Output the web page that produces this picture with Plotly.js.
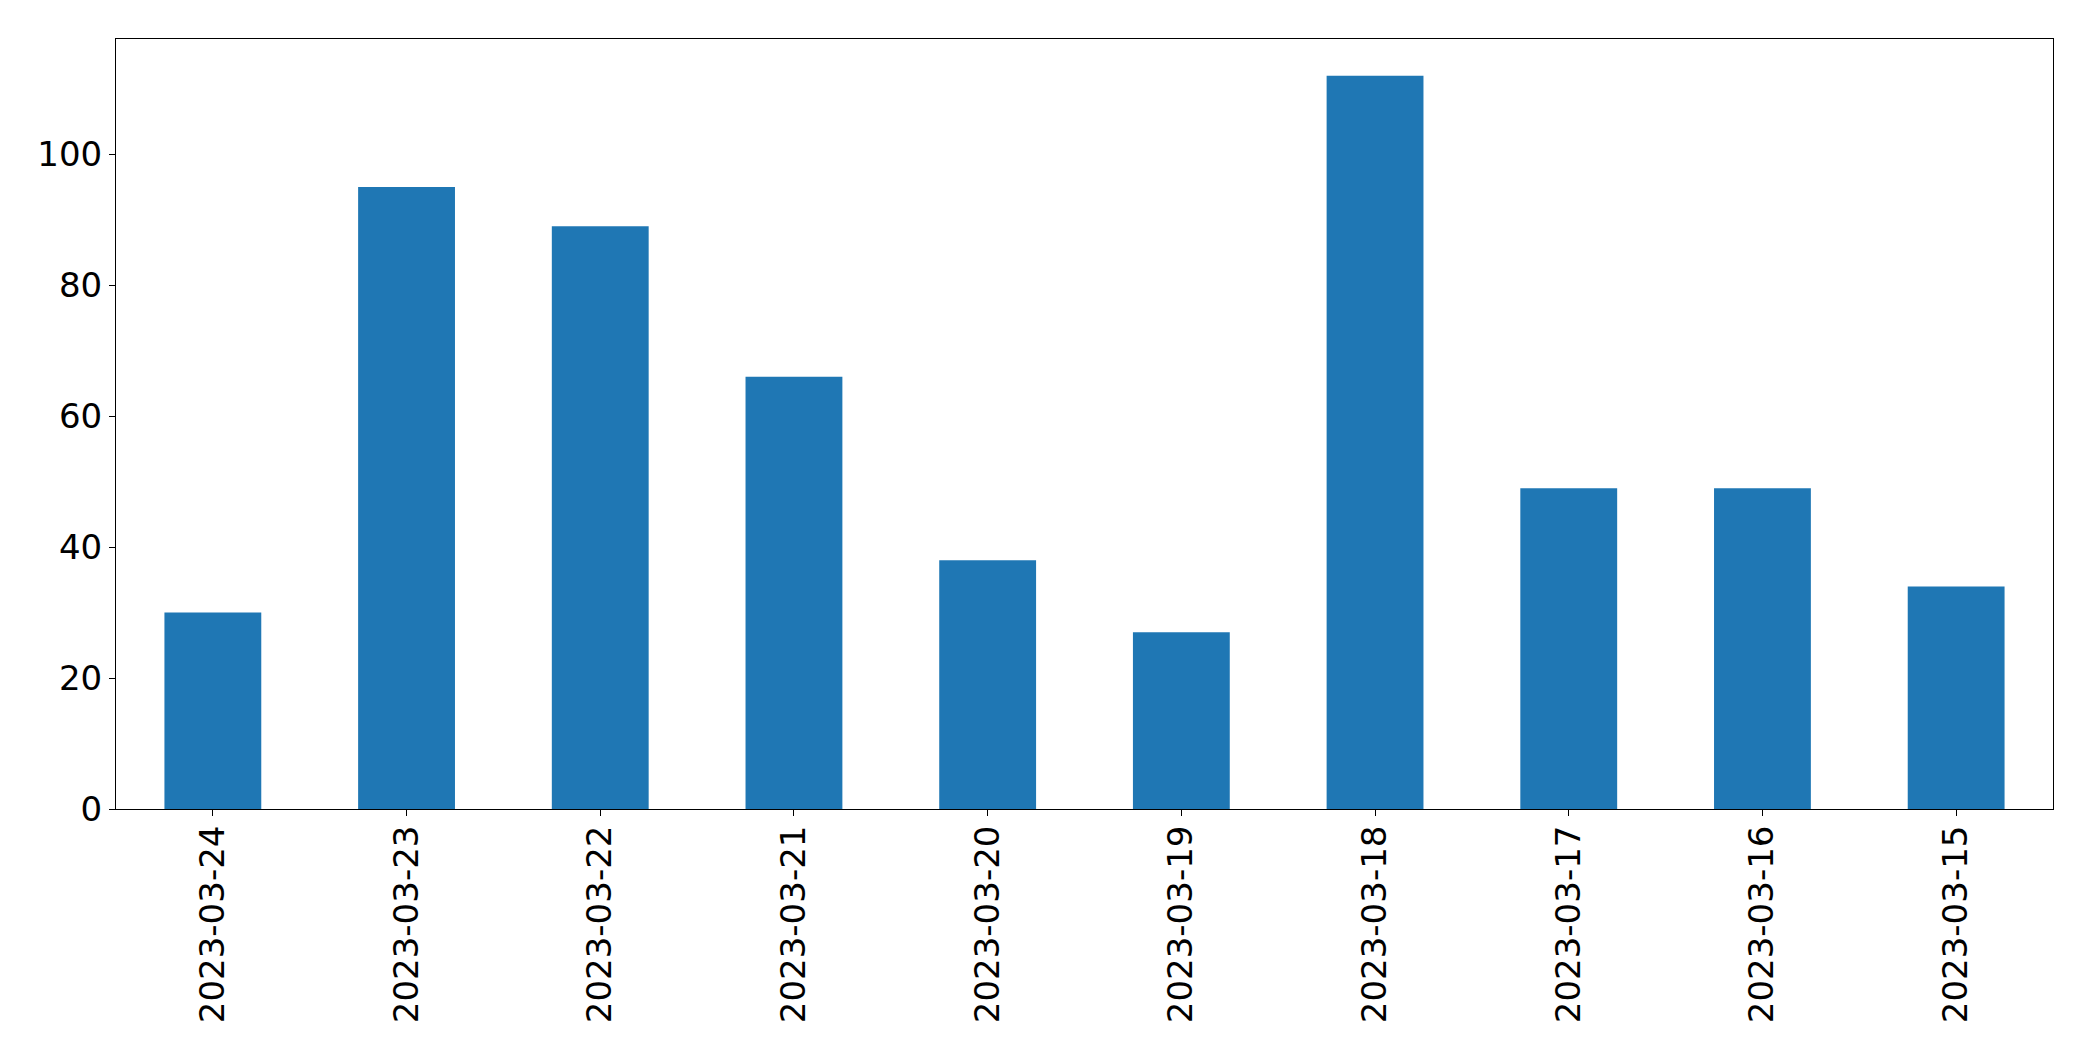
<!DOCTYPE html>
<html>
<head>
<meta charset="utf-8">
<script src="https://cdn.plot.ly/plotly-3.0.1.min.js"></script>
<style>html,body{margin:0;padding:0;background:#fff;}#chart{width:2093px;height:1061px;}</style>
</head>
<body>
<div id="chart"></div>
<script>
const dates = ["2023-03-24","2023-03-23","2023-03-22","2023-03-21","2023-03-20","2023-03-19","2023-03-18","2023-03-17","2023-03-16","2023-03-15"];
const counts = [30, 95, 89, 66, 38, 27, 112, 49, 49, 34];
const yTicks = [0, 20, 40, 60, 80, 100];

const trace = {
  type: "bar",
  x: dates,
  y: counts,
  marker: {color: "#1f77b4", line: {width: 0}},
  hoverinfo: "x+y"
};

const axisFont = {family: "DejaVu Sans, sans-serif", size: 34, color: "#000"};

const layout = {
  width: 2093,
  height: 1061,
  margin: {l: 116, r: 40, t: 39, b: 252, pad: 0},
  paper_bgcolor: "#fff",
  plot_bgcolor: "#fff",
  showlegend: false,
  bargap: 0.5,
  xaxis: {
    type: "category",
    range: [-0.5, dates.length - 0.5],
    tickangle: -90,
    tickfont: axisFont,
    ticks: "outside",
    ticklen: 6,
    tickwidth: 1,
    tickcolor: "#000",
    showline: true,
    linecolor: "#000",
    linewidth: 1,
    mirror: true,
    showgrid: false,
    zeroline: false,
    ticklabelstandoff: -4
  },
  yaxis: {
    range: [0, 117.6],
    tickvals: yTicks,
    ticktext: yTicks.map(String),
    tickfont: axisFont,
    ticks: "outside",
    ticklen: 6,
    tickwidth: 1,
    tickcolor: "#000",
    showline: true,
    linecolor: "#000",
    linewidth: 1,
    mirror: true,
    showgrid: false,
    zeroline: false,
    ticklabelstandoff: 0
  }
};

Plotly.newPlot("chart", [trace], layout, {displayModeBar: false, staticPlot: true});
</script>
</body>
</html>
